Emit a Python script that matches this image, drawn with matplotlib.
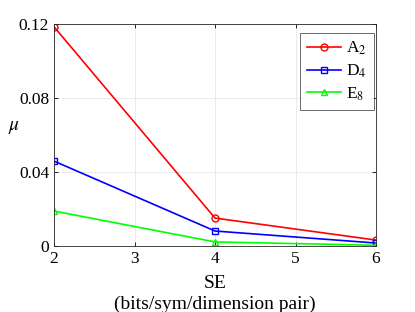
import matplotlib
matplotlib.use("Agg")
import matplotlib.pyplot as plt

plt.rcParams['font.family'] = ['Liberation Serif', 'DejaVu Serif']
plt.rcParams['mathtext.fontset'] = 'stix'

# --- data ---
se = [2, 4, 6]
mu_a2 = [0.1185, 0.0151, 0.0032]
mu_d4 = [0.0459, 0.0081, 0.0016]
mu_e8 = [0.0189, 0.0022, 0.0004]

fig = plt.figure(figsize=(4.15, 3.12), dpi=100)
ax = fig.add_axes([54 / 415, 1 - 246 / 312, 322 / 415, 222 / 312])

ax.plot(se, mu_a2, color='#ff0000', marker='o', ms=5, mfc='none', mew=1.0, lw=1.2, label='A$_2$')
ax.plot(se, mu_d4, color='#0000ff', marker='s', ms=4, mfc='none', mew=1.0, lw=1.2, label='D$_4$')
ax.plot(se, mu_e8, color='#00ff00', marker='^', ms=5, mfc='none', mew=1.0, lw=1.2, label='E$_8$')

ax.set_xlim(2, 6)
ax.set_ylim(0, 0.12)
ax.set_xticks([2, 3, 4, 5, 6])
ax.set_yticks([0, 0.04, 0.08, 0.12])
ax.set_yticklabels(['0', '0.04', '0.08', '0.12'])
ax.tick_params(direction='in', length=3, labelsize=12.5, top=True, right=True, width=0.6)
ax.grid(True, color='#e6e6e6', lw=0.6)
ax.set_axisbelow(True)
for s in ax.spines.values():
    s.set_linewidth(0.6)
    s.set_color('#262626')

ax.set_xlabel('SE\n(bits/sym/dimension pair)', fontsize=14, linespacing=1.3)
ax.xaxis.set_label_coords(0.5, -(275 - 246) / 222)
ax.set_ylabel(r'$\mu$', fontsize=14, rotation=0, ha='center', va='center')
ax.yaxis.set_label_coords((14 - 54) / 322, (246 - 127) / 222)

leg = ax.legend(loc='upper right', bbox_to_anchor=(0.994, 0.959), borderaxespad=0,
                fontsize=12.5, fancybox=False, edgecolor='#262626',
                handlelength=2.0, labelspacing=0.3, handletextpad=0.3, borderpad=0.4)
leg.get_frame().set_linewidth(0.6)

fig.savefig('out.png', dpi=100)
